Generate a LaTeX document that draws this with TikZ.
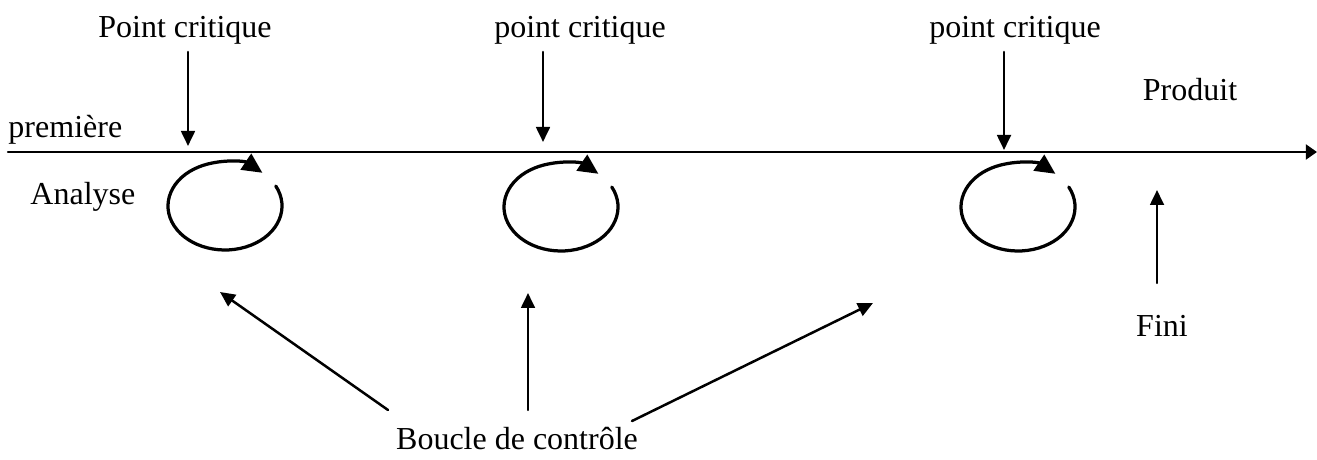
\documentclass[tikz,border=0pt]{standalone}
\usepackage{fontspec}
\setmainfont{Liberation Serif}
\usetikzlibrary{arrows.meta}
\tikzset{
  lbl/.style={inner sep=0pt, font=\fontsize{12.8}{15}\selectfont},
  arr/.style={line width=1pt, -{Triangle[length=6pt,width=5.5pt]}},
  loop/.style={line width=1.3pt, -{Triangle[length=8pt,width=7.5pt]}}
}
\begin{document}
\begin{tikzpicture}[x=0.4pt,y=0.4pt,line cap=round,line join=round]
  \useasboundingbox (0,0) rectangle (1317,459);
  % time axis
  \coordinate (start) at (8,307);
  \coordinate (end) at (1317,307);
  \draw[line width=1pt, -{Triangle[length=4.5pt,width=6pt]}] (start) -- (end);
  \node[lbl, anchor=base west] (prem) at (8,321) {première};
  \node[lbl, anchor=base west] (analyse) at (30,254) {Analyse};
  \node[lbl, anchor=base] (produit) at (1190,358) {Produit};
  \node[lbl, anchor=base] (fini) at (1162,122) {Fini};
  % critical points
  \node[lbl, anchor=base] (pcA) at (185,421) {Point critique};
  \node[lbl, anchor=base] (pcB) at (580,421) {point critique};
  \node[lbl, anchor=base] (pcC) at (1015,421) {point critique};
  \coordinate (tA) at (188,313);
  \coordinate (tB) at (543,317);
  \coordinate (tC) at (1004,309);
  \draw[arr] (tA |- 0,407) -- (tA);
  \draw[arr] (tB |- 0,407) -- (tB);
  \draw[arr] (tC |- 0,407) -- (tC);
  % control loops
  \coordinate (lA) at (225,253);
  \coordinate (lB) at (561,252);
  \coordinate (lC) at (1018,252);
  \foreach \c in {lA,lB,lC}
    \draw[loop] (\c) ++(27:57 and 44) arc[start angle=27, end angle=-311, x radius=57, y radius=44];
  % labels below
  \node[lbl, anchor=base] (boucle) at (517,9) {Boucle de contrôle};
  \coordinate (bA) at (220,167);
  \coordinate (bB) at (528,166);
  \coordinate (bC) at (873,156);
  \draw[arr] (388,49) -- (bA);
  \draw[arr] (bB |- 0,49) -- (bB);
  \draw[arr] (632,38) -- (bC);
  \coordinate (fA) at (1157,269);
  \draw[arr] (fA |- 0,176) -- (fA);
\end{tikzpicture}
\end{document}
